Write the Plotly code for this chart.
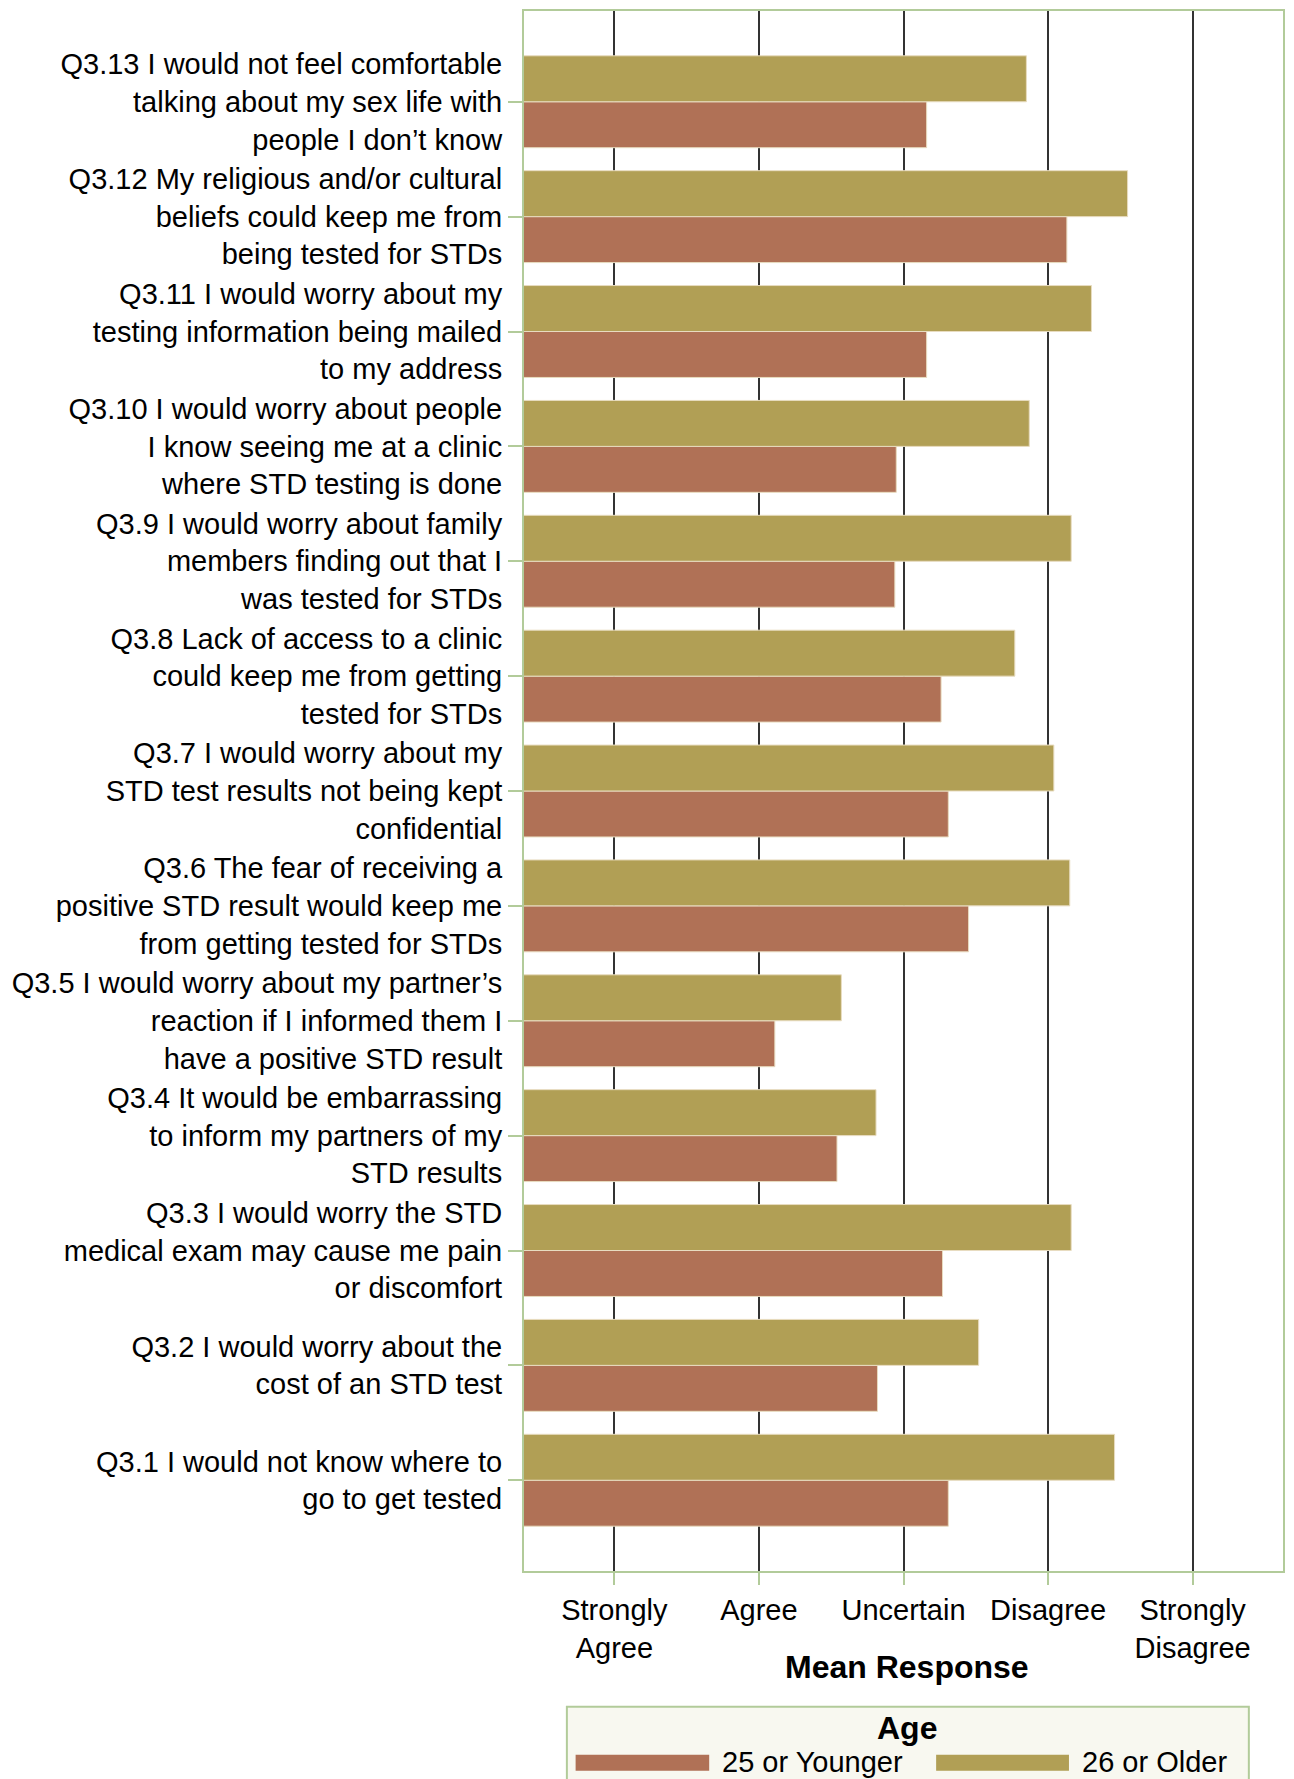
import plotly.graph_objects as go

# questions, bottom to top (Q3.1 sits at the bottom of the chart)
questions = [
    "Q3.1 I would not know where to<br>go to get tested",
    "Q3.2 I would worry about the<br>cost of an STD test",
    "Q3.3 I would worry the STD<br>medical exam may cause me pain<br>or discomfort",
    "Q3.4 It would be embarrassing<br>to inform my partners of my<br>STD results",
    "Q3.5 I would worry about my partner’s<br>reaction if I informed them I<br>have a positive STD result",
    "Q3.6 The fear of receiving a<br>positive STD result would keep me<br>from getting tested for STDs",
    "Q3.7 I would worry about my<br>STD test results not being kept<br>confidential",
    "Q3.8 Lack of access to a clinic<br>could keep me from getting<br>tested for STDs",
    "Q3.9 I would worry about family<br>members finding out that I<br>was tested for STDs",
    "Q3.10 I would worry about people<br>I know seeing me at a clinic<br>where STD testing is done",
    "Q3.11 I would worry about my<br>testing information being mailed<br>to my address",
    "Q3.12 My religious and/or cultural<br>beliefs could keep me from<br>being tested for STDs",
    "Q3.13 I would not feel comfortable<br>talking about my sex life with<br>people I don’t know",
]

young = [3.31, 2.82, 3.27, 2.54, 2.11, 3.45, 3.31, 3.26, 2.94, 2.95, 3.16, 4.13, 3.16]
older = [4.46, 3.52, 4.16, 2.81, 2.57, 4.15, 4.04, 3.77, 4.16, 3.87, 4.30, 4.55, 3.85]

series_names = ["25 or Younger", "26 or Older"]
series_colors = ["#b07156", "#b19f55"]

scale_vals = [1, 2, 3, 4, 5]
scale_text = ["Strongly<br>Agree", "Agree", "Uncertain", "Disagree", "Strongly<br>Disagree"]

FONT = "Liberation Sans, Arial, sans-serif"
FRAME = "#b2cb9a"

fig = go.Figure()
for name, vals, color in zip(series_names, [young, older], series_colors):
    fig.add_trace(go.Bar(
        y=questions, x=vals, name=name, orientation="h",
        marker=dict(color=color, line=dict(color="#e8dcc0", width=1)),
        showlegend=False,
    ))

# page body has an 8px margin and the div is clipped to the body width
fig.update_layout(
    width=1278, height=1771,
    margin=dict(l=516, r=1, t=1, b=208),
    barmode="group", bargap=0.2, bargroupgap=0,
    plot_bgcolor="white", paper_bgcolor="white",
    font=dict(family=FONT, size=29, color="black"),
)

fig.update_xaxes(
    range=[0.375, 5.625], tickvals=scale_vals, ticktext=scale_text,
    showgrid=True, gridcolor="#333333", gridwidth=2, zeroline=False,
    showline=True, linecolor=FRAME, linewidth=2, mirror=True,
    ticks="outside", ticklen=12, tickcolor=FRAME, tickwidth=2,
    tickfont=dict(size=29),
)
fig.update_yaxes(
    range=[-0.79, 12.79], type="category",
    showgrid=False, zeroline=False,
    showline=True, linecolor=FRAME, linewidth=2, mirror=True,
    ticks="outside", ticklen=14, tickcolor=FRAME, tickwidth=2,
    tickfont=dict(size=29),
)

# axis title
fig.add_annotation(
    text="<b>Mean Response</b>", xref="paper", yref="paper", x=0.505, y=-0.0615,
    showarrow=False, font=dict(size=32), yanchor="middle",
)

# legend drawn by hand so the swatches are wide like the original
fig.add_shape(type="rect", xref="paper", yref="paper",
              x0=0.0565, x1=0.955, y0=-0.15, y1=-0.087,
              fillcolor="#f8f8f0", line=dict(color=FRAME, width=2), layer="below")
fig.add_annotation(text="<b>Age</b>", xref="paper", yref="paper", x=0.505, y=-0.1005,
                   showarrow=False, font=dict(size=32), yanchor="middle")
swatch_x = [(0.068, 0.244), (0.543, 0.718)]
for (x0, x1), name, color in zip(swatch_x, series_names, series_colors):
    fig.add_shape(type="rect", xref="paper", yref="paper",
                  x0=x0, x1=x1, y0=-0.128, y1=-0.1178,
                  fillcolor=color, line=dict(width=0))
    fig.add_annotation(text=name, xref="paper", yref="paper", x=x1 + 0.014, y=-0.1225,
                       xanchor="left", yanchor="middle", showarrow=False,
                       font=dict(size=29))

fig.write_html("out.html")
